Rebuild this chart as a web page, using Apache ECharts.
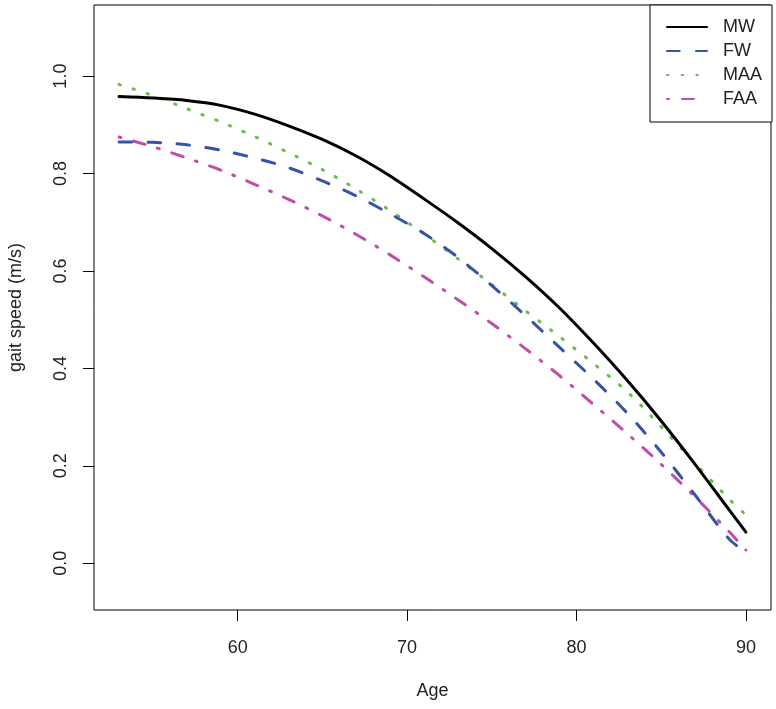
<!DOCTYPE html>
<html>
<head>
<meta charset="utf-8">
<script src="https://cdn.jsdelivr.net/npm/echarts@6/dist/echarts.min.js"></script>
<style>
html,body{margin:0;padding:0;background:#fff;}
#chart{width:776px;height:709px;}
</style>
</head>
<body>
<div id="chart"></div>
<script>
const ages = [53,55,57,59,61,63,65,67,69,71,73,75,77,79,81,83,85,87,89,90];
const seriesNames = ['MW','FW','MAA','FAA'];
const mw  = [0.958,0.955,0.950,0.940,0.922,0.898,0.870,0.836,0.795,0.748,0.699,0.646,0.588,0.524,0.452,0.375,0.292,0.203,0.110,0.064];
const fw  = [0.865,0.864,0.859,0.848,0.832,0.812,0.785,0.754,0.717,0.677,0.628,0.570,0.508,0.443,0.378,0.308,0.228,0.140,0.050,0.022];
const maa = [0.983,0.960,0.933,0.906,0.876,0.843,0.808,0.768,0.724,0.676,0.625,0.572,0.518,0.465,0.410,0.352,0.280,0.205,0.132,0.099];
const faa = [0.875,0.855,0.832,0.807,0.778,0.747,0.713,0.675,0.633,0.588,0.541,0.492,0.440,0.385,0.326,0.266,0.203,0.136,0.065,0.027];
const xTicks = [60,70,80,90];
const yTicks = [0.0,0.2,0.4,0.6,0.8,1.0];

const colors = ['#000000','#3553a8','#6cbb4f','#c14ea6'];
const dashes = ['solid',[12.7,16.3],[1.5,13.2],[2,13,12,13]];
const values = [mw,fw,maa,faa];

const font = "'Liberation Sans', Arial, sans-serif";
const txt = '#222';

const chart = echarts.init(document.getElementById('chart'));
chart.setOption({
  backgroundColor:'#fff',
  animation:false,
  grid:{left:94,right:5,top:5,bottom:99,show:true,borderColor:'#000',borderWidth:1,
        backgroundColor:'transparent',containLabel:false,outerBoundsMode:'none'},
  legend:{
    right:4,top:5,orient:'vertical',
    borderColor:'#000',borderWidth:1,borderRadius:0,backgroundColor:'#fff',
    padding:[13,10,14,16],itemGap:6,itemWidth:40,itemHeight:14,
    itemStyle:{opacity:0},
    textStyle:{fontSize:18,fontFamily:font,color:txt,padding:[0,0,0,11]},
    data:seriesNames
  },
  xAxis:{
    type:'value',min:51.52,max:91.48,
    name:'Age',nameLocation:'middle',nameGap:72,
    nameTextStyle:{fontSize:18,fontFamily:font,color:txt,verticalAlign:'top'},
    axisLine:{show:false,onZero:false},
    axisTick:{show:true,inside:false,length:11,lineStyle:{color:'#000',width:1},customValues:xTicks},
    axisLabel:{show:true,margin:29,fontSize:18,fontFamily:font,color:txt,customValues:xTicks,
               formatter:v=>String(Math.round(v))},
    splitLine:{show:false}
  },
  yAxis:{
    type:'value',min:-0.096,max:1.146,
    name:'gait speed (m/s)',nameLocation:'middle',nameGap:69,nameRotate:90,
    nameTextStyle:{fontSize:18,fontFamily:font,color:txt},
    axisLine:{show:false,onZero:false},
    axisTick:{show:true,inside:false,length:11,lineStyle:{color:'#000',width:1},customValues:yTicks},
    axisLabel:{show:true,rotate:90,margin:24,fontSize:18,fontFamily:font,color:txt,customValues:yTicks,
               formatter:v=>v.toFixed(1)},
    splitLine:{show:false}
  },
  series: seriesNames.map((n,i)=>({
    name:n,type:'line',symbol:'none',smooth:0.3,
    data: ages.map((a,j)=>[a, values[i][j]]),
    lineStyle:{color:colors[i],width:3,type:dashes[i],cap:'round',join:'round'},
    itemStyle:{color:colors[i]},
    z: 4-i
  }))
});
</script>
</body>
</html>
